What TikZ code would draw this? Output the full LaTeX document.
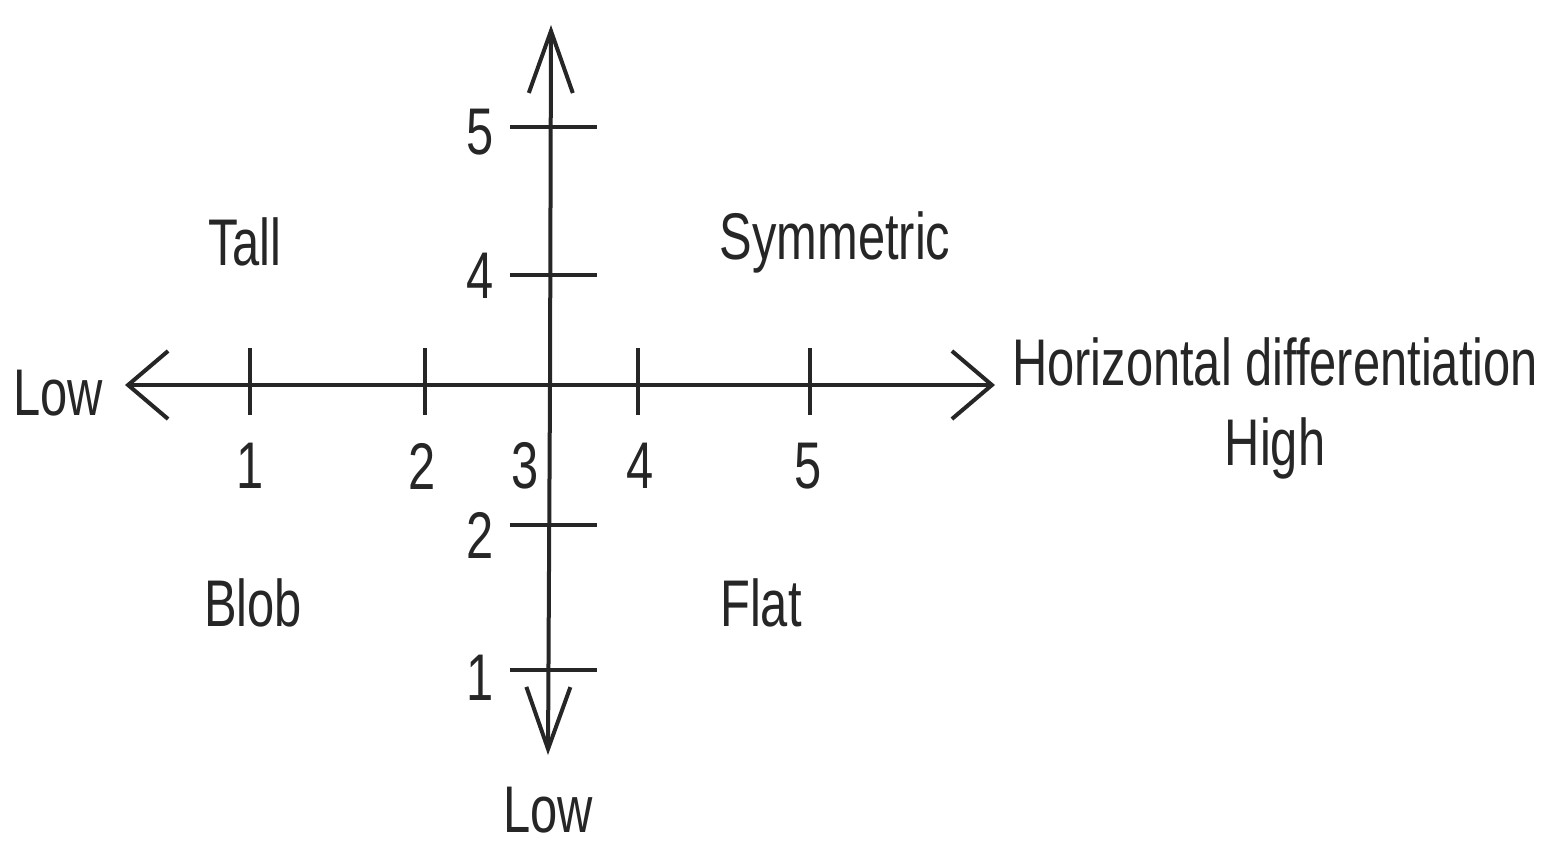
\documentclass[tikz,border=0pt]{standalone}
\usepackage{fontspec}
\setmainfont{Liberation Sans}
\usetikzlibrary{arrows.meta}
\begin{document}
\begin{tikzpicture}[x=1pt,y=-1pt,
  axis/.style={line width=4pt, draw=black!85},
  tickmark/.style={line width=3.5pt, draw=black!85},
  lbl/.style={font=\fontsize{66}{70}\selectfont, xscale=0.74, inner sep=0pt, text=black!85},
  harrow/.style={-{Straight Barb[length=40pt,width=68pt,line width=4pt]}},
  varrow/.style={-{Straight Barb[length=62pt,width=44pt,line width=4pt]}}]
\useasboundingbox (0,0) rectangle (1541,849);
% axes
\coordinate (O) at (550,385);
\coordinate (L) at (125,385);
\coordinate (R) at (995,385);
\coordinate (T) at (551,25);
\coordinate (B) at (548,755);
\draw[axis,harrow] (O) -- (L);
\draw[axis,harrow] (O) -- (R);
\draw[axis,varrow] (O) -- (T);
\draw[axis,varrow] (O) -- (B);
% horizontal ticks
\foreach \x/\n in {250/h1,425/h2,638/h4,810/h5}{
  \coordinate (\n a) at (\x,348);
  \coordinate (\n b) at (\x,415);
  \draw[tickmark] (\n a) -- (\n b);
}
% vertical ticks
\foreach \y/\n in {127/v5,275/v4,525/v2,670/v1}{
  \coordinate (\n a) at (510,\y);
  \coordinate (\n b) at (597,\y);
  \draw[tickmark] (\n a) -- (\n b);
}
% horizontal tick labels
\node[lbl] (lh1) at (250,466) {1};
\node[lbl] (lh2) at (422,466) {2};
\node[lbl] (lh3) at (525,466) {3};
\node[lbl] (lh4) at (640,466) {4};
\node[lbl] (lh5) at (808,466) {5};
% vertical tick labels
\node[lbl] (lv5) at (480,132) {5};
\node[lbl] (lv4) at (480,276) {4};
\node[lbl] (lv2) at (480,535) {2};
\node[lbl] (lv1) at (480,678) {1};
% quadrant labels
\node[lbl] (tall) at (245,242) {Tall};
\node[lbl] (sym) at (835,242) {Symmetric};
\node[lbl] (blob) at (253,603) {Blob};
\node[lbl] (flat) at (761,603) {Flat};
% axis end labels
\node[lbl] (lowl) at (58,393) {Low};
\node[lbl] (hd) at (1275,362) {Horizontal differentiation};
\node[lbl] (high) at (1275,448) {High};
\node[lbl] (lowb) at (548,810) {Low};
\end{tikzpicture}
\end{document}
